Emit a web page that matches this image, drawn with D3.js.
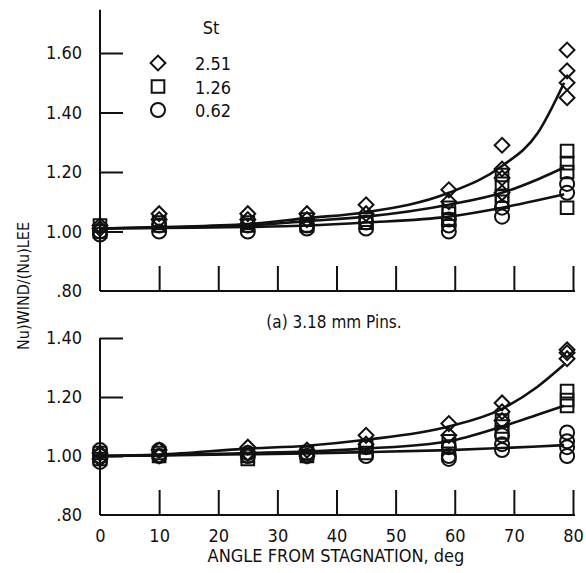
<!DOCTYPE html>
<html>
<head>
<meta charset="utf-8">
<script src="https://cdn.jsdelivr.net/npm/d3@7"></script>
<style>
  body { margin: 0; background: #fff; }
  text { font-family: "Liberation Sans Narrow", "DejaVu Sans Condensed", sans-serif; fill: #111; }
</style>
</head>
<body>
<div class="canvas"></div>
<script>
// data
const angles = [0, 10, 25, 35, 45, 59, 68, 79];
const stLabels = ['2.51', '1.26', '0.62'];
const xTicks = [0, 10, 20, 30, 40, 50, 60, 70, 80];
const yTicksTop = [0.8, 1.0, 1.2, 1.4, 1.6];
const yTicksBottom = [0.8, 1.0, 1.2, 1.4];

// top panel, measured points at each angle
const topDiamond = [[1.01, 1.02], [1.06, 1.04], [1.06, 1.04], [1.06, 1.04], [1.09, 1.06], [1.14, 1.10], [1.29, 1.21, 1.18, 1.13], [1.61, 1.54, 1.50, 1.45]];
const topSquare  = [[1.02, 1.00], [1.03, 1.02], [1.03, 1.02], [1.04, 1.02], [1.04, 1.03], [1.08, 1.06, 1.04], [1.19, 1.16, 1.12, 1.10], [1.27, 1.23, 1.20, 1.08]];
const topCircle  = [[1.00, 0.99], [1.02, 1.00], [1.02, 1.00], [1.02, 1.01], [1.03, 1.01], [1.04, 1.02, 1.00], [1.08, 1.05], [1.16, 1.13]];

// bottom panel
const botDiamond = [[1.01, 0.99], [1.02, 1.00], [1.03, 1.01], [1.02, 1.00], [1.07, 1.04], [1.11, 1.07], [1.18, 1.15, 1.12], [1.36, 1.35, 1.33]];
const botSquare  = [[1.01, 0.99], [1.01, 1.00], [1.00, 0.99], [1.01, 1.00], [1.03, 1.01], [1.05, 1.03], [1.12, 1.10, 1.08], [1.22, 1.19, 1.17]];
const botCircle  = [[1.02, 1.00, 0.98], [1.02, 1.00], [1.01, 1.00], [1.01, 1.00], [1.03, 1.00], [1.03, 1.00, 0.99], [1.07, 1.04, 1.02], [1.08, 1.05, 1.03, 1.00]];

// faired curves (angle, value)
const curveAngles = [0, 10, 25, 35, 45, 59, 68, 74, 78.5];
const topCurve251 = [1.01, 1.015, 1.025, 1.045, 1.065, 1.13, 1.22, 1.33, 1.50];
const topCurve126 = [1.01, 1.013, 1.02, 1.035, 1.05, 1.09, 1.13, 1.175, 1.215];
const topCurve062 = [1.01, 1.012, 1.015, 1.02, 1.03, 1.05, 1.08, 1.105, 1.125];
const botCurve251 = [1.00, 1.005, 1.025, 1.035, 1.055, 1.10, 1.16, 1.235, 1.31];
const botCurve126 = [1.00, 1.003, 1.01, 1.015, 1.025, 1.05, 1.10, 1.14, 1.17];
const botCurve062 = [1.00, 1.002, 1.006, 1.009, 1.013, 1.02, 1.027, 1.032, 1.037];

const dims = { width: 586, height: 573 };

const svg = d3.select('.canvas').append('svg')
  .attr('width', dims.width)
  .attr('height', dims.height);

const x = d3.scaleLinear().domain([0, 80]).range([100, 573]);
const yTop = d3.scaleLinear().domain([0.8, 1.6]).range([291, 53]);
const yBot = d3.scaleLinear().domain([0.8, 1.4]).range([515, 338]);

// marker shapes
const diamond = d3.symbol().type(d3.symbolSquare).size(110);
const square = d3.symbol().type(d3.symbolSquare).size(160);
const circle = d3.symbol().type(d3.symbolCircle).size(155);

const line = y => d3.line()
  .x(d => x(d[0]))
  .y(d => y(d[1]))
  .curve(d3.curveMonotoneX);

function panel(y, topValue, yTicks, series, curves, showLabels) {
  const g = svg.append('g');

  // y axis: ticks point inward, labels on the left
  g.append('g')
    .attr('transform', `translate(${x(0)},0)`)
    .call(d3.axisLeft(y)
      .tickValues(yTicks)
      .tickSizeInner(-23)
      .tickSizeOuter(0)
      .tickPadding(18)
      .tickFormat(d => d < 1 ? d3.format('.2f')(d).slice(1) : d3.format('.2f')(d)))
    .call(a => a.select('.domain').remove())
    .call(a => a.selectAll('.tick line').attr('stroke', '#111').attr('stroke-width', 2)
      .filter(d => d === 0.8).remove())
    .call(a => a.selectAll('text').style('font-size', '18px').attr('fill', '#111'));

  // left spine
  g.append('line')
    .attr('x1', x(0)).attr('x2', x(0))
    .attr('y1', y(topValue)).attr('y2', y(0.8))
    .attr('stroke', '#111').attr('stroke-width', 2);

  // bottom axis: ticks point upward
  g.append('g')
    .attr('transform', `translate(0,${y(0.8)})`)
    .call(d3.axisBottom(x)
      .tickValues(xTicks)
      .tickSizeInner(-25)
      .tickSizeOuter(0)
      .tickPadding(14)
      .tickFormat(showLabels ? d3.format('d') : ''))
    .call(a => a.select('.domain').attr('stroke', '#111').attr('stroke-width', 2)
      .attr('d', `M${x(0)},0H${x(80) + 2}`))
    .call(a => a.selectAll('.tick line').attr('stroke', '#111').attr('stroke-width', 2)
      .filter(d => d === 0).remove())
    .call(a => a.selectAll('text').style('font-size', '18px').attr('fill', '#111'));

  // curves
  curves.forEach(c => {
    g.append('path')
      .datum(curveAngles.map((a, i) => [a, c[i]]))
      .attr('d', line(y))
      .attr('fill', 'none')
      .attr('stroke', '#111')
      .attr('stroke-width', 2.6);
  });

  // markers
  const shapes = [diamond, square, circle];
  series.forEach((s, k) => {
    const pts = [];
    s.forEach((vals, i) => vals.forEach(v => pts.push([angles[i], v])));
    g.selectAll(null)
      .data(pts)
      .enter()
      .append('path')
        .attr('d', shapes[k])
        .attr('transform', d => `translate(${x(d[0])},${y(d[1])})` + (k === 0 ? ' rotate(45)' : ''))
        .attr('fill', 'none')
        .attr('stroke', '#111')
        .attr('stroke-width', 2);
  });
}

panel(yTop, 1.745, yTicksTop, [topDiamond, topSquare, topCircle],
  [topCurve251, topCurve126, topCurve062], false);
panel(yBot, 1.4, yTicksBottom, [botDiamond, botSquare, botCircle],
  [botCurve251, botCurve126, botCurve062], true);

// legend
const legend = svg.append('g');
legend.append('text')
  .attr('x', 211).attr('y', 34)
  .attr('text-anchor', 'middle')
  .style('font-size', '18px')
  .text('St');
const legendShapes = [diamond, square, circle];
stLabels.forEach((lab, i) => {
  const ly = 63 + i * 23.5;
  legend.append('path')
    .attr('d', legendShapes[i])
    .attr('transform', `translate(158,${ly})` + (i === 0 ? ' rotate(45)' : ''))
    .attr('fill', 'none')
    .attr('stroke', '#111')
    .attr('stroke-width', 2);
  legend.append('text')
    .attr('x', 195).attr('y', ly + 7)
    .style('font-size', '18px')
    .text(lab);
});

// panel caption and axis titles
svg.append('text')
  .attr('x', 334).attr('y', 328)
  .attr('text-anchor', 'middle')
  .style('font-size', '17px')
  .text('(a) 3.18 mm Pins.');

svg.append('text')
  .attr('x', 336).attr('y', 562)
  .attr('text-anchor', 'middle')
  .style('font-size', '18px')
  .text('ANGLE FROM STAGNATION, deg');

svg.append('text')
  .attr('transform', 'translate(29,286) rotate(-90)')
  .attr('text-anchor', 'middle')
  .style('font-size', '16px')
  .text('Nu)WIND/(Nu)LEE');
</script>
</body>
</html>
